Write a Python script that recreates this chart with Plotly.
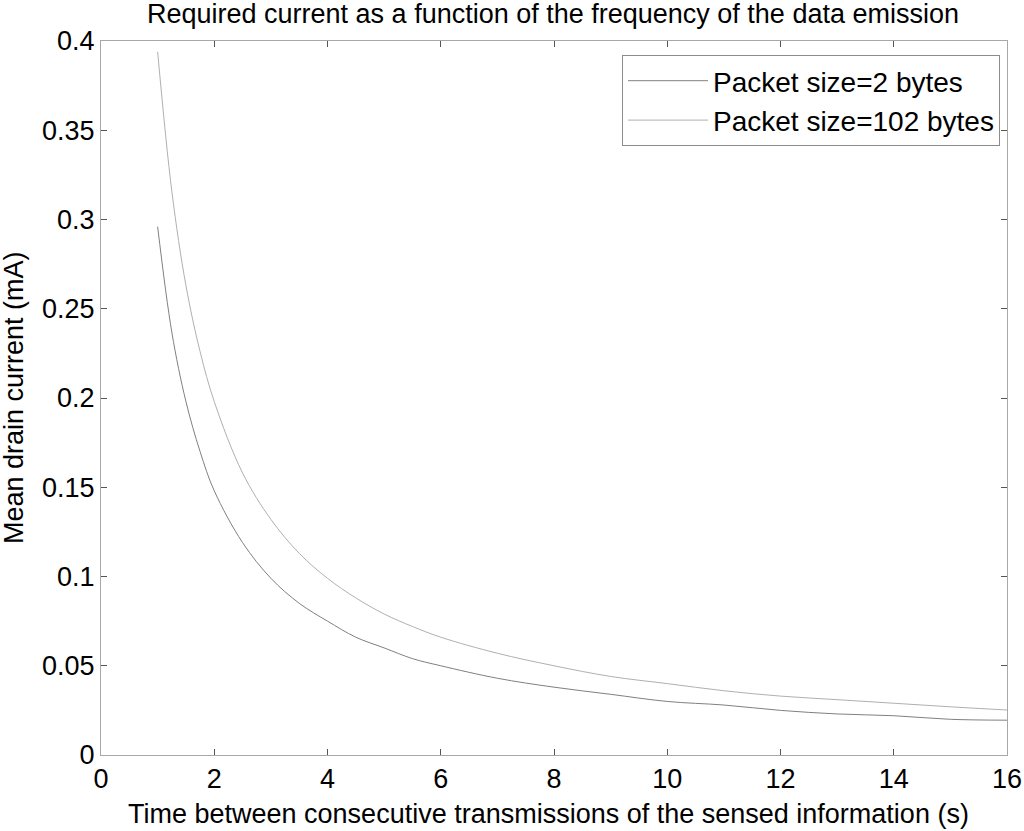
import plotly.graph_objects as go

# Time between transmissions (s)
time_s = [1, 1.25, 1.5, 1.75, 2, 2.5, 3, 3.5, 4, 4.5, 5, 5.5, 6, 7, 8, 9, 10, 11, 12, 13, 14, 15, 16]
# Mean drain current (mA)
current_2_bytes = [0.296, 0.237, 0.198, 0.170, 0.148, 0.119, 0.099, 0.085, 0.075, 0.066, 0.060, 0.054,
                   0.050, 0.043, 0.038, 0.034, 0.030, 0.028, 0.025, 0.023, 0.022, 0.020, 0.0195]
current_102_bytes = [0.394, 0.316, 0.263, 0.226, 0.198, 0.158, 0.132, 0.113, 0.099, 0.088, 0.079, 0.072,
                     0.066, 0.057, 0.050, 0.044, 0.040, 0.036, 0.033, 0.031, 0.029, 0.027, 0.0252]

series_names = ["Packet size=2 bytes", "Packet size=102 bytes"]

x_tick_vals = [0, 2, 4, 6, 8, 10, 12, 14, 16]
y_tick_vals = [0, 0.05, 0.1, 0.15, 0.2, 0.25, 0.3, 0.35, 0.4]
y_tick_text = ["0", "0.05", "0.1", "0.15", "0.2", "0.25", "0.3", "0.35", "0.4"]

title_text = "Required current as a function of the frequency of the data emission"
x_title = "Time between consecutive transmissions of the sensed information (s)"
y_title = "Mean drain current (mA)"

FONT = "Liberation Sans, Arial, sans-serif"
FS = 27

W, H = 1024, 831
PL, PR, PT, PB = 101, 17, 41, 76  # plot area: x 101..1007, y 41..755
PW = W - PL - PR
PH = H - PT - PB

fig = go.Figure()
fig.add_trace(go.Scatter(x=time_s, y=current_2_bytes, mode="lines", name=series_names[0],
                         line=dict(color="#808080", width=1, shape="spline")))
fig.add_trace(go.Scatter(x=time_s, y=current_102_bytes, mode="lines", name=series_names[1],
                         line=dict(color="#b0b0b0", width=1, shape="spline")))

fig.update_layout(
    width=W, height=H,
    margin=dict(l=PL, r=PR, t=PT, b=PB),
    paper_bgcolor="white", plot_bgcolor="white",
    font=dict(family=FONT, color="black"),
    title=dict(text=title_text, x=553 / W, xanchor="center", xref="container",
               y=1 - 14 / H, yanchor="middle", yref="container", automargin=False,
               font=dict(size=FS, family=FONT, color="black")),
    showlegend=True,
    legend=dict(x=(1000 - PL) / PW, y=(755 - 55) / PH, xanchor="right", yanchor="top",
                bgcolor="white", bordercolor="#8c8c8c", borderwidth=1,
                font=dict(size=FS + 1, family=FONT, color="black"),
                itemwidth=80, tracegroupgap=0),
    annotations=[
        dict(text=x_title, xref="paper", yref="paper", x=(548 - PL) / PW, y=-(814 - 755) / PH,
             xanchor="center", yanchor="middle", showarrow=False,
             font=dict(size=FS, family=FONT, color="black")),
        dict(text=y_title, xref="paper", yref="paper", x=(14 - PL) / PW, y=0.5,
             xanchor="center", yanchor="middle", textangle=-90, showarrow=False,
             font=dict(size=FS, family=FONT, color="black")),
    ],
)

fig.update_xaxes(range=[0, 16], tickvals=x_tick_vals, ticks="inside", ticklen=6, tickcolor="#555555",
                 showline=True, linecolor="#a8a8a8", linewidth=1, mirror="ticks",
                 showgrid=False, zeroline=False, automargin=False,
                 tickfont=dict(size=FS, family=FONT, color="black"))
fig.update_yaxes(range=[0, 0.4], tickvals=y_tick_vals, ticktext=y_tick_text, ticks="inside", ticklen=6,
                 tickcolor="#555555",
                 showline=True, linecolor="#a8a8a8", linewidth=1, mirror="ticks",
                 showgrid=False, zeroline=False, automargin=False,
                 tickfont=dict(size=FS, family=FONT, color="black"))

fig.write_html("out.html", config={"displayModeBar": False},
               post_script="document.body.style.margin='0';document.body.style.overflow='hidden';")
